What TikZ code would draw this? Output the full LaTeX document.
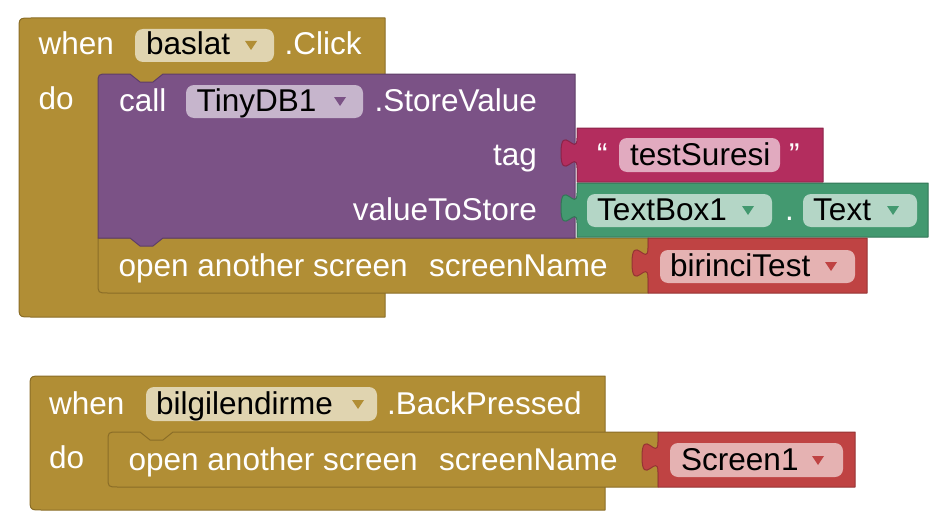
\documentclass[tikz,border=0pt]{standalone}
\usepackage{fontspec}
\setmainfont{Liberation Sans}
\definecolor{gold}{HTML}{B18E35}
\definecolor{golddk}{HTML}{8A6D27}
\definecolor{tan}{HTML}{E0D4B0}
\definecolor{purp}{HTML}{7B5286}
\definecolor{purpdk}{HTML}{5E3E67}
\definecolor{purplt}{HTML}{C6B5CC}
\definecolor{mag}{HTML}{B32D5E}
\definecolor{magdk}{HTML}{8B2348}
\definecolor{maglt}{HTML}{E1AABF}
\definecolor{grn}{HTML}{439970}
\definecolor{grndk}{HTML}{337657}
\definecolor{grnlt}{HTML}{B4D6C6}
\definecolor{rd}{HTML}{BF4343}
\definecolor{rddk}{HTML}{953434}
\definecolor{rdlt}{HTML}{E5B2B2}
\tikzset{
  txt/.style={font=\fontsize{31.5}{38}\selectfont, text=white, inner sep=0pt, anchor=base west},
  txtr/.style={txt, anchor=base east},
  ftxt/.style={txt, text=black},
  blk/.style={line width=1pt, line join=round},
  fieldbox/.style={rounded corners=8pt},
}
\begin{document}
\begin{tikzpicture}[x=1pt,y=-1pt]
\useasboundingbox (0,0) rectangle (950,527);
% ---------- block 1 ----------
\filldraw[blk, fill=gold, draw=golddk] (19,30) .. controls (19,18) .. (31,18) -- (385,18) -- (385,317) -- (31,317) .. controls (19,317) .. (19,305) -- cycle;
% open another screen (block 1)
\filldraw[blk, fill=gold, draw=golddk] (98,238) -- (98,283) .. controls (98,293) .. (108,293) -- (648,293) -- (648,238) -- cycle;
% purple call block
\filldraw[blk, fill=purp, draw=purpdk] (98,238) -- (98,84) .. controls (98,74) .. (108,74) -- (130,74) -- (140,82) -- (153,82) -- (163,74) -- (575,74) -- (575,238) -- (163,238) -- (153,246) -- (140,246) -- (130,238) -- cycle;
% magenta text block
\filldraw[blk, fill=mag, draw=magdk] (823,128) -- (577,128) -- (577,138) .. controls (577,158) and (561,122) .. (561,153) .. controls (561,184) and (577,148) .. (577,168) -- (577,182) -- (823,182) -- cycle;
% green getter block
\filldraw[blk, fill=grn, draw=grndk] (928,183) -- (577,183) -- (577,193) .. controls (577,213) and (561,177) .. (561,208) .. controls (561,239) and (577,203) .. (577,223) -- (577,237) -- (928,237) -- cycle;
% red screen name block 1
\filldraw[blk, fill=rd, draw=rddk] (867,238) -- (648,238) -- (648,248) .. controls (648,268) and (632,232) .. (632,263) .. controls (632,294) and (648,258) .. (648,278) -- (648,293) -- (867,293) -- cycle;
% fields block 1
\fill[fieldbox, tan] (135,29) rectangle (274,62);
\fill[fieldbox, purplt] (186,85) rectangle (363,118);
\fill[fieldbox, maglt] (619,138) rectangle (780,172);
\fill[fieldbox, grnlt] (587,194) rectangle (772,227);
\fill[fieldbox, grnlt] (803,194) rectangle (917,227);
\fill[fieldbox, rdlt] (660,250) rectangle (855,283);
% dropdown triangles block 1
\fill[gold] (245,41) -- (257,41) -- (251,50) -- cycle;
\fill[purp] (334,97) -- (346,97) -- (340,106) -- cycle;
\fill[grn] (742,206) -- (754,206) -- (748,215) -- cycle;
\fill[grn] (887,206) -- (899,206) -- (893,215) -- cycle;
\fill[rd] (825,262) -- (837,262) -- (831,271) -- cycle;
% texts block 1
\node[txt] (w1) at (38.5,55) {when};
\node[ftxt] (baslat) at (146,55) {baslat};
\node[txt] (click) at (284.5,55) {.Click};
\node[txt] (do1) at (38.5,109) {do};
\node[txt] (call) at (119,111) {call};
\node[ftxt] (tiny) at (196.5,111) {TinyDB1};
\node[txtr] (store) at (537,111) {.StoreValue};
\node[txtr] (tag) at (537,165) {tag};
\node[txt] (q1) at (597,165) {“};
\node[ftxt] (tsur) at (630,165) {testSuresi};
\node[txt] (q2) at (789,165) {”};
\node[txtr] (vts) at (537,220) {valueToStore};
\node[ftxt] (tb1) at (597,220) {TextBox1};
\node[txt] (dot) at (785,220) {.};
\node[ftxt] (text) at (813,220) {Text};
\node[txt] (open1) at (118.5,276) {open another screen};
\node[txt] (sn1) at (429,276) {screenName};
\node[ftxt] (bir) at (670,276) {birinciTest};
% ---------- block 2 ----------
\filldraw[blk, fill=gold, draw=golddk] (30,388) .. controls (30,376) .. (42,376) -- (605,376) -- (605,510) -- (42,510) .. controls (30,510) .. (30,498) -- cycle;
\filldraw[blk, fill=gold, draw=golddk] (108,442) .. controls (108,432) .. (118,432) -- (140,432) -- (150,440) -- (163,440) -- (173,432) -- (658,432) -- (658,487) -- (118,487) .. controls (108,487) .. (108,477) -- cycle;
\filldraw[blk, fill=rd, draw=rddk] (855,432) -- (658,432) -- (658,442) .. controls (658,462) and (642,426) .. (642,457) .. controls (642,488) and (658,452) .. (658,472) -- (658,487) -- (855,487) -- cycle;
\fill[fieldbox, tan] (146,387) rectangle (377,421);
\fill[fieldbox, rdlt] (670,443) rectangle (843,477);
\fill[gold] (352,400) -- (364,400) -- (358,409) -- cycle;
\fill[rd] (812,456) -- (824,456) -- (818,465) -- cycle;
\node[txt] (w2) at (49,414) {when};
\node[ftxt] (bilg) at (156,414) {bilgilendirme};
\node[txt] (back) at (387,414) {.BackPressed};
\node[txt] (do2) at (49,468) {do};
\node[txt] (open2) at (128.5,470) {open another screen};
\node[txt] (sn2) at (439,470) {screenName};
\node[ftxt] (scr1) at (681,470) {Screen1};
\end{tikzpicture}
\end{document}
